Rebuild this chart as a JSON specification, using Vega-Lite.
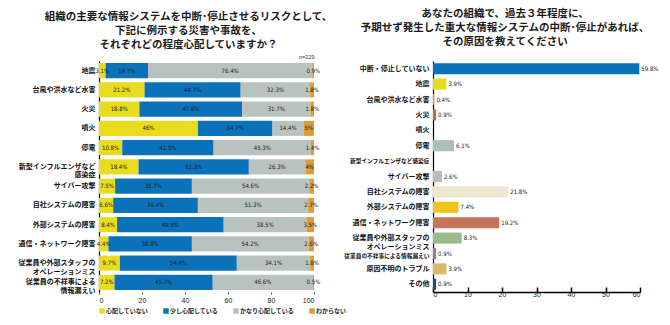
{
  "$schema": "https://vega.github.io/schema/vega-lite/v6.json",
  "padding": {"left": 18, "top": 8, "right": 5, "bottom": 2},
  "background": "white",
  "bounds": "flush",
  "spacing": 119,
  "resolve": {"scale": {"color": "independent"}, "legend": {"color": "independent"}},
  "config": {
    "font": "Noto Sans CJK JP",
    "view": {"stroke": null},
    "title": {"font": "Noto Sans CJK JP", "fontSize": 10.5, "fontWeight": "bold", "color": "#1a1a1a", "lineHeight": 14, "anchor": "middle", "frame": "bounds"}
  },
  "datasets": {
    "left": [
      {"item": "地震", "cat": "心配していない", "k": 1, "v": 3.1},
      {"item": "地震", "cat": "少し心配している", "k": 2, "v": 19.7},
      {"item": "地震", "cat": "かなり心配している", "k": 3, "v": 76.4},
      {"item": "地震", "cat": "わからない", "k": 4, "v": 0.9},
      {"item": "台風や洪水など水害", "cat": "心配していない", "k": 1, "v": 21.2},
      {"item": "台風や洪水など水害", "cat": "少し心配している", "k": 2, "v": 44.7},
      {"item": "台風や洪水など水害", "cat": "かなり心配している", "k": 3, "v": 32.3},
      {"item": "台風や洪水など水害", "cat": "わからない", "k": 4, "v": 1.8},
      {"item": "火災", "cat": "心配していない", "k": 1, "v": 18.8},
      {"item": "火災", "cat": "少し心配している", "k": 2, "v": 47.8},
      {"item": "火災", "cat": "かなり心配している", "k": 3, "v": 31.7},
      {"item": "火災", "cat": "わからない", "k": 4, "v": 1.8},
      {"item": "噴火", "cat": "心配していない", "k": 1, "v": 46},
      {"item": "噴火", "cat": "少し心配している", "k": 2, "v": 34.7},
      {"item": "噴火", "cat": "かなり心配している", "k": 3, "v": 14.4},
      {"item": "噴火", "cat": "わからない", "k": 4, "v": 5},
      {"item": "停電", "cat": "心配していない", "k": 1, "v": 10.8},
      {"item": "停電", "cat": "少し心配している", "k": 2, "v": 42.5},
      {"item": "停電", "cat": "かなり心配している", "k": 3, "v": 45.3},
      {"item": "停電", "cat": "わからない", "k": 4, "v": 1.4},
      {"item": "新型インフルエンザなど\n感染症", "cat": "心配していない", "k": 1, "v": 18.4},
      {"item": "新型インフルエンザなど\n感染症", "cat": "少し心配している", "k": 2, "v": 51.3},
      {"item": "新型インフルエンザなど\n感染症", "cat": "かなり心配している", "k": 3, "v": 26.3},
      {"item": "新型インフルエンザなど\n感染症", "cat": "わからない", "k": 4, "v": 4},
      {"item": "サイバー攻撃", "cat": "心配していない", "k": 1, "v": 7.5},
      {"item": "サイバー攻撃", "cat": "少し心配している", "k": 2, "v": 35.7},
      {"item": "サイバー攻撃", "cat": "かなり心配している", "k": 3, "v": 54.6},
      {"item": "サイバー攻撃", "cat": "わからない", "k": 4, "v": 2.2},
      {"item": "自社システムの障害", "cat": "心配していない", "k": 1, "v": 6.6},
      {"item": "自社システムの障害", "cat": "少し心配している", "k": 2, "v": 39.4},
      {"item": "自社システムの障害", "cat": "かなり心配している", "k": 3, "v": 51.3},
      {"item": "自社システムの障害", "cat": "わからない", "k": 4, "v": 2.7},
      {"item": "外部システムの障害", "cat": "心配していない", "k": 1, "v": 8.4},
      {"item": "外部システムの障害", "cat": "少し心配している", "k": 2, "v": 49.6},
      {"item": "外部システムの障害", "cat": "かなり心配している", "k": 3, "v": 38.5},
      {"item": "外部システムの障害", "cat": "わからない", "k": 4, "v": 3.5},
      {"item": "通信・ネットワーク障害", "cat": "心配していない", "k": 1, "v": 4.4},
      {"item": "通信・ネットワーク障害", "cat": "少し心配している", "k": 2, "v": 38.8},
      {"item": "通信・ネットワーク障害", "cat": "かなり心配している", "k": 3, "v": 54.2},
      {"item": "通信・ネットワーク障害", "cat": "わからない", "k": 4, "v": 2.6},
      {"item": "従業員や外部スタッフの\nオペレーションミス", "cat": "心配していない", "k": 1, "v": 9.7},
      {"item": "従業員や外部スタッフの\nオペレーションミス", "cat": "少し心配している", "k": 2, "v": 54.4},
      {"item": "従業員や外部スタッフの\nオペレーションミス", "cat": "かなり心配している", "k": 3, "v": 34.1},
      {"item": "従業員や外部スタッフの\nオペレーションミス", "cat": "わからない", "k": 4, "v": 1.8},
      {"item": "従業員の不祥事による\n情報漏えい", "cat": "心配していない", "k": 1, "v": 7.2},
      {"item": "従業員の不祥事による\n情報漏えい", "cat": "少し心配している", "k": 2, "v": 45.7},
      {"item": "従業員の不祥事による\n情報漏えい", "cat": "かなり心配している", "k": 3, "v": 46.6},
      {"item": "従業員の不祥事による\n情報漏えい", "cat": "わからない", "k": 4, "v": 0.5}
    ],
    "right": [
      {"item": "中断・停止していない", "v": 59.8},
      {"item": "地震", "v": 3.9},
      {"item": "台風や洪水など水害", "v": 0.4},
      {"item": "火災", "v": 0.9},
      {"item": "噴火", "v": 0},
      {"item": "停電", "v": 6.1},
      {"item": "新型インフルエンザなど感染症", "v": 0},
      {"item": "サイバー攻撃", "v": 2.6},
      {"item": "自社システムの障害", "v": 21.8},
      {"item": "外部システムの障害", "v": 7.4},
      {"item": "通信・ネットワーク障害", "v": 19.2},
      {"item": "従業員や外部スタッフの\nオペレーションミス", "v": 8.3},
      {"item": "従業員の不祥事による情報漏えい", "v": 0.9},
      {"item": "原因不明のトラブル", "v": 3.9},
      {"item": "その他", "v": 0.9}
    ]
  },
  "hconcat": [
    {
      "title": {"text": ["組織の主要な情報システムを中断･停止させるリスクとして、", "下記に例示する災害や事故を、", "それぞれどの程度心配していますか？"], "offset": 4, "dx": 6},
      "width": 215,
      "height": 231,
      "data": {"name": "left"},
      "resolve": {"axis": {"x": "independent"}},
      "encoding": {
        "y": {"field": "item", "type": "nominal", "sort": null, "title": null,
          "scale": {"paddingInner": 0.22, "paddingOuter": 0.11},
          "axis": {"labelExpr": "split(datum.label, '\\n')", "labelFontSize": 7, "labelFontWeight": "bold", "labelColor": "#111", "labelLineHeight": 8.5, "labelPadding": 4, "ticks": false, "domainColor": "#000", "domainWidth": 1.2, "labelLimit": 200}
        },
        "order": {"field": "k", "type": "quantitative"}
      },
      "layer": [
        {
          "mark": {"type": "bar", "clip": true},
          "encoding": {
            "x": {"field": "v", "type": "quantitative", "stack": "zero", "scale": {"domain": [0, 100], "nice": false},
              "axis": {"values": [0, 20, 40, 60, 80, 100], "title": null, "grid": false, "domain": false, "ticks": true, "tickSize": 2, "tickColor": "#555", "labelFontSize": 7, "labelColor": "#222", "labelFont": "Liberation Sans", "labelPadding": 2}},
            "color": {"field": "cat", "type": "nominal",
              "scale": {"domain": ["心配していない", "少し心配している", "かなり心配している", "わからない"], "range": ["#e9dc1f", "#0b72b9", "#b8c3c0", "#d99d3c"]},
              "legend": {"title": null, "orient": "bottom", "direction": "horizontal", "symbolType": "square", "symbolSize": 30, "symbolStrokeWidth": 0, "labelFontSize": 6, "labelFontWeight": "bold", "labelColor": "#222", "columnPadding": 14, "symbolOffset": 0, "offset": 5, "padding": 0, "labelOffset": 1}
            }
          }
        },
        {
          "mark": {"type": "text", "fontSize": 6, "font": "Liberation Sans Narrow, DejaVu Sans Condensed, Liberation Sans", "color": "#1a1a1a", "text": {"expr": "datum.v + '%'"}},
          "encoding": {
            "x": {"field": "v", "type": "quantitative", "stack": "zero", "bandPosition": 0.5,
              "axis": {"orient": "top", "title": "n=229", "titleAnchor": "end", "titleFontSize": 5.5, "titleFontWeight": "normal", "titleFont": "Liberation Sans", "titleColor": "#333", "labels": false, "ticks": false, "domain": false, "grid": false, "titlePadding": 2}},
            "detail": {"field": "cat"}
          }
        }
      ]
    },
    {
      "title": {"text": ["あなたの組織で、過去３年程度に、", "予期せず発生した重大な情報システムの中断･停止があれば、", "その原因を教えてください"], "offset": 14, "dx": 4},
      "width": 207,
      "height": 231,
      "data": {"name": "right"},
      "encoding": {
        "y": {"field": "item", "type": "nominal", "sort": null, "title": null,
          "scale": {"paddingInner": 0.28, "paddingOuter": 0.14},
          "axis": {"labelExpr": "split(datum.label, '\\n')",
            "labelFontSize": {"condition": {"test": "indexof(datum.value, '新型') == 0 || indexof(datum.value, '従業員の') == 0", "value": 5.7}, "value": 7},
            "labelOffset": {"condition": {"test": "indexof(datum.value, '従業員の') == 0", "value": 2.5}, "value": 0},
            "labelFontWeight": "bold", "labelColor": "#111", "labelLineHeight": 8.5, "labelPadding": 4, "ticks": false, "domainColor": "#000", "domainWidth": 1.2, "labelLimit": 200}
        },
        "x": {"field": "v", "type": "quantitative", "scale": {"domain": [0, 60], "nice": false},
          "axis": {"values": [0, 10, 20, 30, 40, 50, 60], "title": null, "grid": false, "domainColor": "#000", "domainWidth": 1.5, "tickColor": "#000", "tickWidth": 1.5, "tickSize": -5, "labelFontSize": 7, "labelColor": "#222", "labelFont": "Liberation Sans", "labelPadding": 3}}
      },
      "layer": [
        {
          "mark": {"type": "bar"},
          "encoding": {
            "color": {"field": "item", "type": "nominal", "legend": null,
              "scale": {"domain": ["中断・停止していない", "地震", "台風や洪水など水害", "火災", "噴火", "停電", "新型インフルエンザなど感染症", "サイバー攻撃", "自社システムの障害", "外部システムの障害", "通信・ネットワーク障害", "従業員や外部スタッフの\nオペレーションミス", "従業員の不祥事による情報漏えい", "原因不明のトラブル", "その他"],
                "range": ["#0a72b8", "#e6dc1e", "#d49a5a", "#b7704a", "#cccccc", "#a9bfba", "#cccccc", "#b9bcb8", "#ede7cf", "#f0c419", "#c8745a", "#9ab98d", "#8d867c", "#d8b966", "#1e4a86"]}
            }
          }
        },
        {
          "mark": {"type": "text", "align": "left", "dx": 2, "fontSize": 6, "font": "Liberation Sans Narrow, DejaVu Sans Condensed, Liberation Sans", "color": "#1a1a1a", "text": {"expr": "datum.v > 0 ? datum.v + '%' : ''"}}
        }
      ]
    }
  ]
}
